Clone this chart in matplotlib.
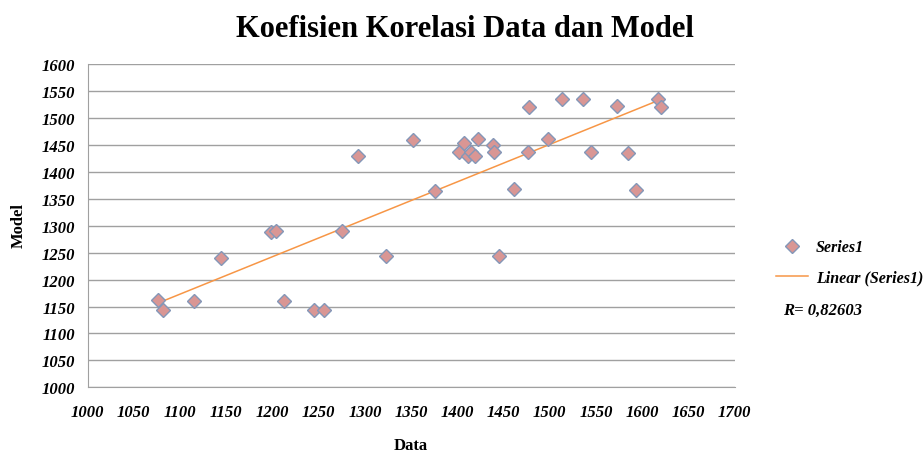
import numpy as np
import matplotlib
matplotlib.use('Agg')
from matplotlib import pyplot as plt
from matplotlib.lines import Line2D

data = [1076, 1082, 1115, 1144, 1198, 1204, 1213, 1245, 1256, 1275,
        1292, 1323, 1352, 1376, 1402, 1407, 1411, 1415, 1419, 1422,
        1438, 1440, 1445, 1461, 1476, 1478, 1498, 1513, 1536, 1545,
        1573, 1584, 1593, 1617, 1620]
model = [1162, 1143, 1160, 1241, 1288, 1291, 1160, 1144, 1143, 1290,
         1429, 1243, 1460, 1364, 1437, 1453, 1429, 1438, 1429, 1461,
         1451, 1437, 1243, 1368, 1437, 1521, 1461, 1536, 1536, 1437,
         1522, 1436, 1366, 1536, 1520]
r_text = 'R= 0,82603'

plt.rcParams['font.family'] = 'Liberation Serif'

fig = plt.figure(figsize=(9.24, 4.52), dpi=100)
ax = fig.add_axes([0.0947, 0.141, 0.7005, 0.7145])

slope, icpt = np.polyfit(data, model, 1)
xs = np.array([min(data), max(data)])
ax.plot(xs, slope * xs + icpt, color='#f79646', lw=1.1, zorder=2)
ax.plot(data, model, linestyle='none', marker='D', markersize=7.5,
        markerfacecolor='#d99694', markeredgecolor='#8497b8',
        markeredgewidth=1.0, zorder=3)

ax.set_xlim(1000, 1700)
ax.set_ylim(1000, 1600)
ax.set_xticks(np.arange(1000, 1701, 50))
ax.set_yticks(np.arange(1000, 1601, 50))
ax.yaxis.grid(True, color='#a0a0a0', lw=1.0)
ax.set_axisbelow(True)
for s in ['top', 'right']:
    ax.spines[s].set_visible(False)
for s in ['left', 'bottom']:
    ax.spines[s].set_color('#a0a0a0')
ax.tick_params(length=0, labelsize=12)
ax.tick_params(axis='x', pad=12)
ax.tick_params(axis='y', pad=9)
for lab in ax.get_xticklabels() + ax.get_yticklabels():
    lab.set_fontweight('bold')
    lab.set_fontstyle('italic')

fig.text(0.503, 0.934, 'Koefisien Korelasi Data dan Model', ha='center',
         va='center', fontsize=22, fontweight='bold')
fig.text(0.444, 0.014, 'Data', ha='center', va='center', fontsize=12,
         fontweight='bold')
fig.text(0.02, 0.5, 'Model', ha='center', va='center', rotation=90,
         fontsize=12, fontweight='bold')

# legend on the right, like the excel one
handles = [Line2D([], [], linestyle='none', marker='D', markersize=7,
                  markerfacecolor='#d99694', markeredgecolor='#8497b8'),
           Line2D([], [], color='#f79646', lw=1.1)]
leg = fig.legend(handles, ['Series1', 'Linear (Series1)'],
                 loc='center left', bbox_to_anchor=(0.8395, 0.417),
                 frameon=False, handlelength=2.0, handletextpad=0.5,
                 labelspacing=0.9, borderpad=0, borderaxespad=0,
                 prop={'style': 'italic', 'weight': 'bold', 'size': 11.5})
fig.text(0.847, 0.312, r_text, ha='left', va='center', fontsize=12,
         fontweight='bold', fontstyle='italic')

fig.savefig('out.png', dpi=100)
